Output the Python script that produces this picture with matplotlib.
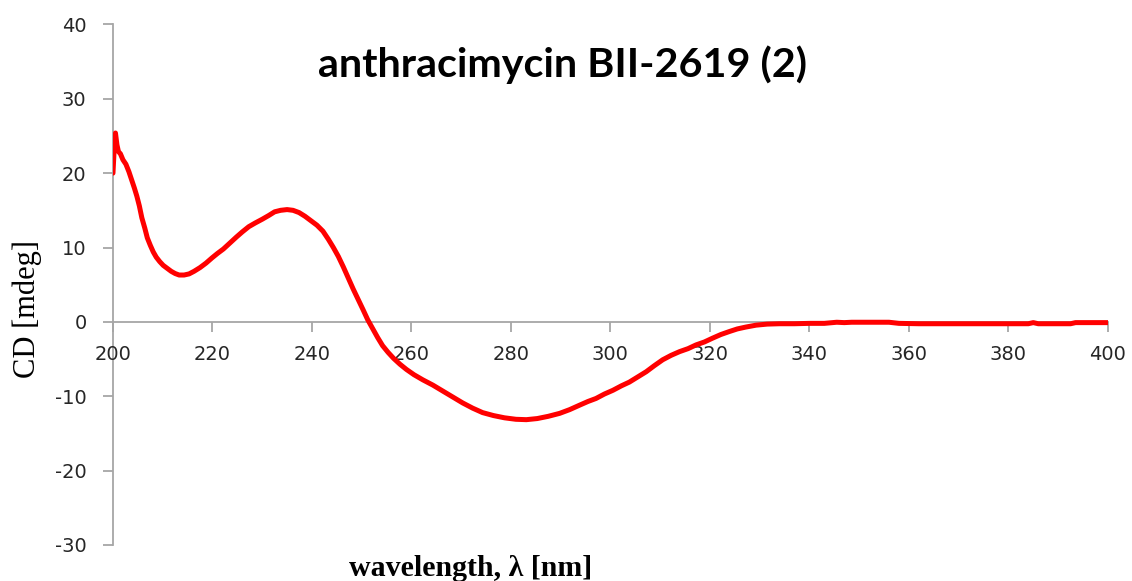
import matplotlib
matplotlib.use("Agg")
import matplotlib.pyplot as plt

plt.rcParams["axes.unicode_minus"] = False

# CD spectrum of anthracimycin BII-2619 (2)
wavelength = [200.0, 200.3, 200.5, 200.8, 201.1, 201.5, 202.0, 202.6, 203.2, 203.8,
              204.3, 204.8, 205.3, 205.8, 206.4, 206.9, 207.5, 208.1, 208.7, 209.4,
              210.1, 210.9, 211.7, 212.5, 213.3, 214.3, 215.3, 216.3, 217.5, 218.7,
              219.9, 221.0, 222.2, 223.5, 224.8, 226.0, 227.3, 228.6, 230.0, 231.3,
              232.5, 233.7, 235.0, 236.2, 237.4, 238.6, 239.8, 241.0, 242.2, 243.3,
              244.3, 245.3, 246.3, 247.3, 248.3, 249.3, 250.3, 251.2, 252.2, 253.2,
              254.2, 255.3, 256.4, 257.7, 259.0, 260.5, 262.3, 264.3, 266.3, 268.3,
              270.3, 272.3, 274.3, 276.5, 278.7, 281.0, 283.1, 285.3, 287.5, 289.8,
              291.8, 293.8, 295.5, 297.1, 298.8, 300.5, 302.2, 303.8, 305.5, 307.2,
              308.8, 310.5, 312.2, 313.9, 315.6, 317.2, 318.9, 320.5, 322.2, 323.9,
              325.5, 327.2, 329.3, 331.5, 334.0, 337.0, 340.0, 343.0, 345.5, 347.0,
              348.5, 352.0, 356.0, 358.0, 362.0, 368.0, 374.0, 380.0, 384.0, 385.0,
              386.0, 390.0, 392.5, 393.5, 397.0, 400.0]
cd_mdeg = [20.0, 24.0, 25.4, 23.8, 22.9, 22.6, 21.8, 21.2, 20.2, 19.0,
           18.0, 16.9, 15.6, 14.0, 12.6, 11.3, 10.3, 9.4, 8.7, 8.1,
           7.6, 7.2, 6.8, 6.5, 6.3, 6.3, 6.45, 6.8, 7.3, 7.9,
           8.6, 9.2, 9.8, 10.6, 11.4, 12.1, 12.8, 13.3, 13.8, 14.3,
           14.8, 15.0, 15.1, 15.0, 14.7, 14.2, 13.6, 13.0, 12.2, 11.1,
           10.0, 8.8, 7.4, 5.9, 4.4, 3.0, 1.6, 0.3, -0.9, -2.1,
           -3.2, -4.1, -4.9, -5.7, -6.4, -7.1, -7.8, -8.5, -9.3, -10.1,
           -10.9, -11.6, -12.2, -12.6, -12.9, -13.1, -13.15, -13.0, -12.7, -12.3,
           -11.8, -11.2, -10.7, -10.3, -9.7, -9.2, -8.6, -8.1, -7.4, -6.7,
           -5.9, -5.1, -4.5, -4.0, -3.6, -3.1, -2.7, -2.2, -1.7, -1.3,
           -0.95, -0.7, -0.44, -0.3, -0.25, -0.25, -0.2, -0.2, -0.05, -0.1,
           -0.05, -0.05, -0.05, -0.2, -0.25, -0.25, -0.25, -0.25, -0.25, -0.1,
           -0.25, -0.25, -0.25, -0.1, -0.1, -0.1]

x_ticks = [200, 220, 240, 260, 280, 300, 320, 340, 360, 380, 400]
y_ticks = [-30, -20, -10, 0, 10, 20, 30, 40]

fig = plt.figure(figsize=(11.32, 5.81), dpi=100)
ax = fig.add_axes([0.0998, 0.062, 0.8789, 0.896])

ax.plot(wavelength, cd_mdeg, color="#ff0000", linewidth=3.6, solid_capstyle="round",
        solid_joinstyle="round", zorder=3)

ax.set_xlim(200, 400)
ax.set_ylim(-30, 40)
ax.set_xticks(x_ticks)
ax.set_yticks(y_ticks)

axis_grey = "#a6a6a6"
for side in ("top", "right"):
    ax.spines[side].set_visible(False)
ax.spines["left"].set_position(("data", 200))
ax.spines["bottom"].set_position(("data", 0))
for side in ("left", "bottom"):
    ax.spines[side].set_color(axis_grey)
    ax.spines[side].set_linewidth(1.3)
    ax.spines[side].set_zorder(1)

ax.tick_params(axis="both", which="major", direction="out", length=7, width=1.3,
               color=axis_grey, labelsize=14, labelcolor="#262626")
ax.tick_params(axis="x", pad=10)
ax.tick_params(axis="y", pad=12)
for lbl in ax.get_xticklabels() + ax.get_yticklabels():
    lbl.set_family("DejaVu Sans")

fig.text(0.0245, 0.468, "CD [mdeg]", rotation=90, ha="center", va="center",
         family="Liberation Serif", fontsize=22, color="black")
fig.text(0.416, 0.022, "wavelength, \u03bb [nm]", ha="center", va="center",
         family="Liberation Serif", fontweight="bold", fontsize=21.5, color="black")
fig.text(0.497, 0.888, "anthracimycin BII-2619 (2)", ha="center", va="center",
         family="Lato", fontweight="bold", fontsize=29.7, color="black")

fig.savefig("out.png", dpi=100)
